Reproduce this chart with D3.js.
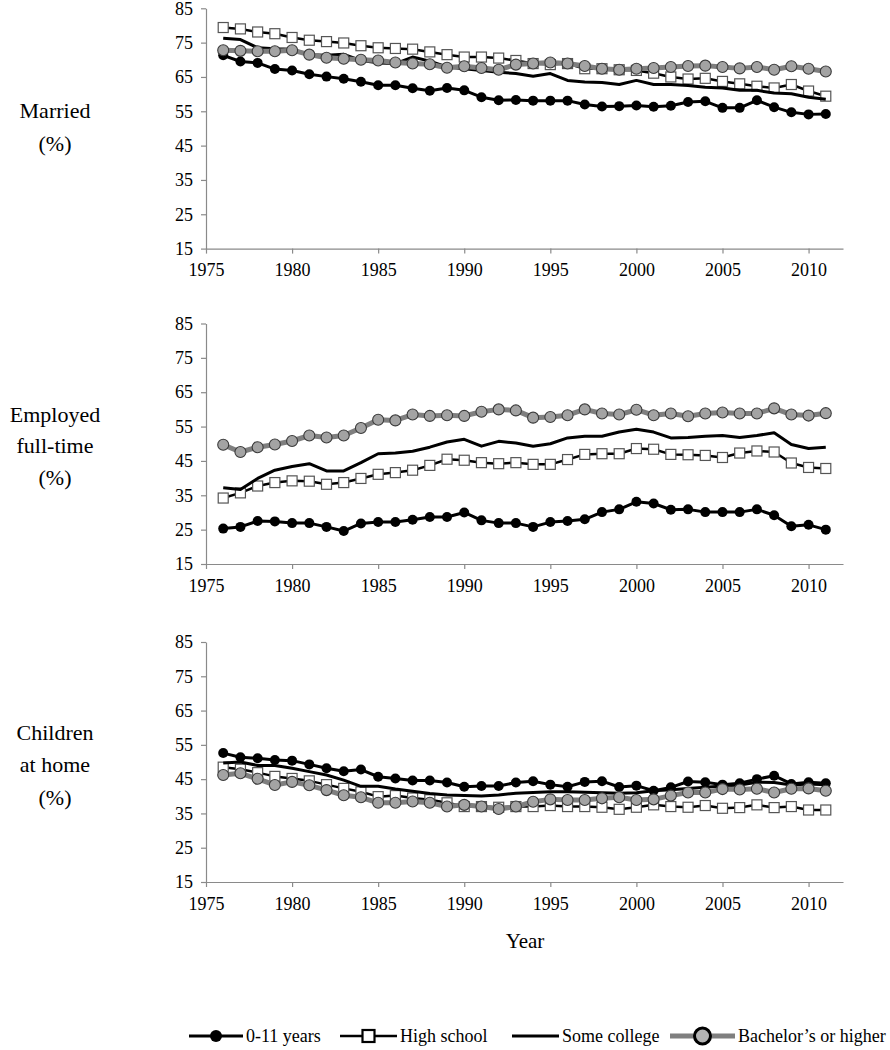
<!DOCTYPE html>
<html><head><meta charset="utf-8">
<script src="https://cdn.jsdelivr.net/npm/d3@7"></script>
<style>
body{margin:0;background:#fff}
svg{display:block}
svg text{font-family:"Liberation Serif","DejaVu Serif",serif !important;fill:#000}
</style>
</head><body>
<svg id="chart" width="890" height="1050"></svg>
<script>
// ---------- DATA ----------
const years = d3.range(1976, 2012); // 1976..2011
const seriesNames = ["0-11 years", "High school", "Some college", "Bachelor’s or higher"];
const yTicks = [15, 25, 35, 45, 55, 65, 75, 85];
const xTicks = [1975, 1980, 1985, 1990, 1995, 2000, 2005, 2010];
const panelLabels = [["Married", "(%)"], ["Employed", "full-time", "(%)"], ["Children", "at home", "(%)"]];

const married_0_11 = [71.3,69.5,69.1,67.3,66.9,65.8,65.1,64.5,63.6,62.6,62.6,61.7,61.0,61.8,61.1,59.1,58.2,58.3,
  58.1,58.1,58.1,57.0,56.4,56.5,56.7,56.3,56.6,57.7,57.9,56.0,56.0,58.2,56.2,54.7,54.1,54.2];
const married_hs = [79.4,79.0,78.1,77.6,76.5,75.7,75.3,74.9,74.1,73.5,73.3,73.1,72.3,71.5,70.8,70.8,70.5,69.8,
  68.9,68.6,68.9,67.4,67.4,67.1,66.9,66.1,65.0,64.4,64.6,63.7,63.0,62.3,61.8,62.8,60.9,59.4];
const married_sc = [76.3,75.9,73.5,73.2,73.1,71.5,71.3,71.6,69.8,69.1,68.9,70.8,69.6,67.9,67.4,66.9,66.4,66.0,
  65.2,66.0,64.0,63.5,63.4,62.8,64.0,62.8,62.8,62.5,62.0,61.8,61.1,61.1,60.3,60.1,59.1,58.5];
const married_ba = [72.8,72.6,72.5,72.5,72.8,71.5,70.6,70.3,70.0,69.8,69.2,68.9,68.7,67.7,68.1,67.6,67.1,68.6,
  68.9,69.2,68.9,68.2,67.4,67.1,67.4,67.6,67.9,68.2,68.3,67.9,67.5,67.9,67.1,68.1,67.4,66.6];

const employed_0_11 = [25.3,25.8,27.5,27.4,26.9,26.9,25.8,24.6,26.8,27.2,27.2,27.9,28.7,28.7,30.0,27.7,26.9,26.9,25.8,
  27.2,27.5,28.0,30.1,30.9,33.1,32.6,30.8,30.9,30.1,30.1,30.1,30.9,29.2,26.0,26.4,25.0];
const employed_hs = [34.2,35.7,37.7,38.7,39.2,39.1,38.2,38.7,39.9,41.1,41.6,42.3,43.7,45.5,45.2,44.5,44.2,44.5,44.0,
  44.0,45.4,46.9,47.1,47.1,48.6,48.4,46.9,46.8,46.6,46.0,47.3,47.9,47.6,44.4,43.1,42.8];
const employed_sc = [37.2,36.7,39.9,42.3,43.4,44.2,42.1,42.1,44.5,47.1,47.3,47.8,49.0,50.5,51.3,49.3,50.7,50.2,49.3,
  50.0,51.7,52.2,52.2,53.4,54.2,53.4,51.7,51.8,52.2,52.4,51.8,52.4,53.2,49.8,48.6,49.0];
const employed_ba = [49.7,47.6,49.0,49.8,50.8,52.4,51.8,52.4,54.6,57.0,56.8,58.5,58.1,58.3,58.1,59.3,60.0,59.7,57.6,
  57.8,58.3,60.0,58.8,58.5,59.9,58.3,58.8,58.0,58.8,59.1,58.8,58.8,60.3,58.5,58.2,58.9];

const children_0_11 = [52.6,51.4,51.1,50.6,50.4,49.3,48.2,47.3,47.8,45.7,45.2,44.6,44.6,44.0,42.8,43.0,43.0,44.0,44.4,
  43.4,42.8,44.2,44.4,42.7,43.1,41.6,42.6,44.3,44.1,43.4,43.8,45.0,46.0,43.6,44.1,43.8];
const children_hs = [48.5,47.9,46.9,45.8,45.2,44.5,43.4,42.3,41.3,39.9,40.2,39.5,39.0,38.1,37.0,37.0,36.8,37.0,
  37.0,37.3,37.0,37.0,36.8,36.2,36.8,37.5,37.0,36.8,37.3,36.5,36.7,37.5,36.7,37.0,36.0,36.0];
const children_sc = [49.7,50.0,49.0,49.0,48.2,47.2,46.2,44.7,42.9,42.9,42.1,41.5,40.8,40.4,40.2,40.1,40.4,40.9,41.1,
  41.3,41.3,41.2,41.0,40.9,41.0,41.6,41.9,42.3,42.6,43.0,43.3,44.1,44.0,43.3,43.6,43.4];
const children_ba = [46.2,46.7,45.1,43.3,44.2,43.2,41.8,40.3,39.7,38.1,38.1,38.5,38.1,
  37.0,37.5,37.0,36.3,37.0,38.4,39.1,38.9,38.9,
  39.4,39.7,38.9,39.1,40.2,41.1,41.1,42.1,42.0,42.2,41.1,42.2,42.3,41.6];

const panelData = [
  [married_0_11, married_hs, married_sc, married_ba],
  [employed_0_11, employed_hs, employed_sc, employed_ba],
  [children_0_11, children_hs, children_sc, children_ba]
];

// ---------- LAYOUT ----------
const FONT = '"Liberation Serif", "DejaVu Serif", serif';
const svg = d3.select("#chart");
const x = d3.scaleLinear().domain([1975, 2012]).range([206, 843]);
const panels = [
  {top: 8.3, bottom: 248.6, labelY: [118, 151]},
  {top: 323.5, bottom: 564, labelY: [422, 453, 485]},
  {top: 642, bottom: 882, labelY: [740, 772, 805]}
];
const axisColor = "#8a8a8a";

const styles = [
  {stroke: "#000", width: 3, marker: "dot"},
  {stroke: "#000", width: 2.5, marker: "square"},
  {stroke: "#000", width: 3, marker: null},
  {stroke: "#7f7f7f", width: 5, marker: "circle"}
];

function drawMarker(g, type, cx, cy, big) {
  if (type === "dot") {
    g.append("circle").attr("cx", cx).attr("cy", cy).attr("r", big ? 6 : 5).attr("fill", "#000");
  } else if (type === "square") {
    const s = big ? 12 : 10;
    g.append("rect").attr("x", cx - s / 2).attr("y", cy - s / 2).attr("width", s).attr("height", s)
      .attr("fill", "#fff").attr("stroke", big ? "#000" : "#555").attr("stroke-width", big ? 2.2 : 1.2);
  } else if (type === "circle") {
    g.append("circle").attr("cx", cx).attr("cy", cy).attr("r", big ? 8 : 5.5)
      .attr("fill", big ? "#b4b4b4" : "#a3a3a3").attr("stroke", big ? "#000" : "#3a3a3a")
      .attr("stroke-width", big ? 3 : 1.1);
  }
}

panels.forEach((p, pi) => {
  const y = d3.scaleLinear().domain([15, 85]).range([p.bottom, p.top]);
  const g = svg.append("g");

  const ya = g.append("g").attr("transform", `translate(${x(1975)},0)`)
    .call(d3.axisLeft(y).tickValues(yTicks).tickSize(5).tickSizeOuter(0).tickPadding(8));
  const xa = g.append("g").attr("transform", `translate(0,${p.bottom})`)
    .call(d3.axisBottom(x).tickValues(xTicks).tickFormat(d3.format("d")).tickSize(5).tickSizeOuter(0).tickPadding(10));
  [ya, xa].forEach(a => {
    a.attr("font-family", FONT);
    a.select(".domain").attr("stroke", axisColor).attr("stroke-width", 1.2);
    a.selectAll(".tick line").attr("stroke", axisColor).attr("stroke-width", 1.2);
    a.selectAll("text").attr("font-size", 18).style("font-family", FONT).attr("fill", "#000");
  });

  panelData[pi].forEach((vals, si) => {
    const st = styles[si];
    const pts = years.map((yr, i) => [x(yr), y(vals[i])]);
    const sg = g.append("g");
    sg.append("path").attr("d", d3.line()(pts)).attr("fill", "none")
      .attr("stroke", st.stroke).attr("stroke-width", st.width).attr("stroke-linejoin", "round");
    if (st.marker) pts.forEach(pt => drawMarker(sg, st.marker, pt[0], pt[1], false));
  });

  panelLabels[pi].forEach((t, li) => {
    svg.append("text").attr("x", 55).attr("y", p.labelY[li]).attr("text-anchor", "middle")
      .attr("font-size", 22).style("font-family", FONT).text(t);
  });
});

svg.append("text").attr("x", 525).attr("y", 948).attr("text-anchor", "middle")
  .attr("font-size", 21).style("font-family", FONT).text("Year");

// ---------- LEGEND ----------
const legendY = 1036;
const legendItems = [
  {x0: 189, x1: 243, tx: 246},
  {x0: 340, x1: 397, tx: 400},
  {x0: 512, x1: 559, tx: 562},
  {x0: 670, x1: 735, tx: 738}
];
const lg = svg.append("g");
legendItems.forEach((it, i) => {
  const st = styles[i];
  lg.append("line").attr("x1", it.x0).attr("x2", it.x1).attr("y1", legendY).attr("y2", legendY)
    .attr("stroke", st.stroke).attr("stroke-width", st.width);
  if (st.marker) drawMarker(lg, st.marker, (it.x0 + it.x1) / 2, legendY, true);
  lg.append("text").attr("x", it.tx).attr("y", legendY + 5.5).attr("font-size", 18)
    .style("font-family", FONT).text(seriesNames[i]);
});
</script>
</body></html>
